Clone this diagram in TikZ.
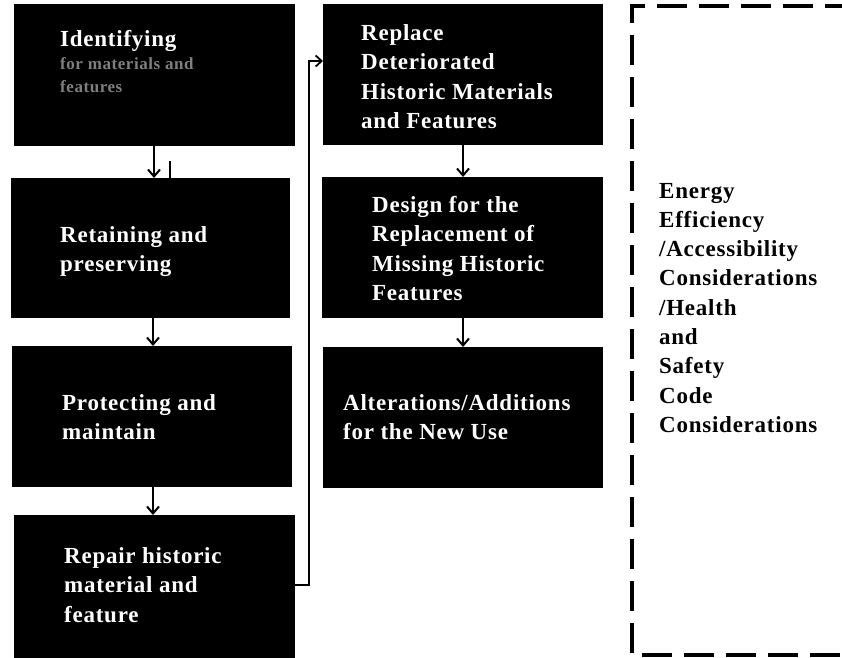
\documentclass[tikz,border=0pt]{standalone}
\usepackage{fontspec}
\newfontfamily\boxfont{Liberation Serif}[LetterSpace=3.3]
\usetikzlibrary{arrows.meta}
\definecolor{subgray}{HTML}{7F7F7F}
\tikzset{
  blk/.style={fill=black, draw=none},
  wtxt/.style={text=white, font=\boxfont\bfseries\fontsize{23}{29.5}\selectfont, align=left, inner sep=0pt, anchor=base west},
  gtxt/.style={text=subgray, font=\boxfont\bfseries\fontsize{17}{23}\selectfont, align=left, inner sep=0pt, anchor=base west},
  rtxt/.style={text=black, font=\boxfont\bfseries\fontsize{23}{29.3}\selectfont, align=left, inner sep=0pt, anchor=base west},
  flow/.style={draw=black, line width=2pt, -{Straight Barb[length=7pt, width=12pt, line width=2pt]}},
  link/.style={draw=black, line width=1.6pt, -{Straight Barb[length=6pt, width=11pt, line width=1.8pt]}},
  plainline/.style={draw=black, line width=1.8pt},
  dashbox/.style={draw=black, line width=4pt, dash pattern=on 30pt off 12pt, dash phase=37pt}
}
\begin{document}
\begin{tikzpicture}[x=1pt, y=-1pt]
\clip (0,0) rectangle (842,657);
\fill[white] (0,0) rectangle (842,657);
% boxes
\path[blk] (14,4) rectangle (295,146);
\coordinate (b1t) at (154,146);
\path[blk] (11,178) rectangle (290,318);
\coordinate (b2t) at (154,178); \coordinate (b2b) at (153,318);
\path[blk] (12,346) rectangle (292,487);
\coordinate (b3t) at (153,346); \coordinate (b3b) at (153,487);
\path[blk] (14,515) rectangle (295,662);
\coordinate (b4t) at (153,515); \coordinate (b4r) at (295,585);
\path[blk] (323,4) rectangle (603,145);
\coordinate (b5l) at (323,61); \coordinate (b5b) at (463,145);
\path[blk] (322,177) rectangle (603,318);
\coordinate (b6t) at (463,177); \coordinate (b6b) at (463,318);
\path[blk] (323,347) rectangle (603,488);
\coordinate (b7t) at (463,347);
% texts (anchored at the baseline of their last line)
\node[wtxt] (t1) at (60,46) {Identifying};
\node[gtxt] (t1s) at (60,92) {for materials and\\features};
\node[wtxt] (t2) at (60,271.5) {Retaining and\\preserving};
\node[wtxt] (t3) at (62,439.5) {Protecting and\\maintain};
\node[wtxt] (t4) at (64,622) {Repair historic\\material and\\feature};
\node[wtxt] (t5) at (361,128.5) {Replace\\Deteriorated\\Historic Materials\\and Features};
\node[wtxt] (t6) at (372,300.5) {Design for the\\Replacement of\\Missing Historic\\Features};
\node[wtxt] (t7) at (343,439.5) {Alterations/Additions\\for the New Use};
\node[rtxt] (t8) at (659,432.4) {Energy\\Efficiency\\/Accessibility\\Considerations\\/Health\\and\\Safety\\Code\\Considerations};
% arrows
\draw[flow] (b1t) -- (b2t);
\draw[plainline] (170,161) -- (170,178);
\draw[flow] (b2b) -- (b3t);
\draw[flow] (b3b) -- (b4t);
\draw[flow] (b5b) -- (b6t);
\draw[flow] (b6b) -- (b7t);
\coordinate (c1) at (309,585);
\coordinate (c2) at (309,61);
\draw[link] (b4r) -- (c1) -- (c2) -- (b5l);
% dashed frame
\draw[dashbox] (860,6) -- (632,6) -- (632,655) -- (860,655);
\end{tikzpicture}
\end{document}
